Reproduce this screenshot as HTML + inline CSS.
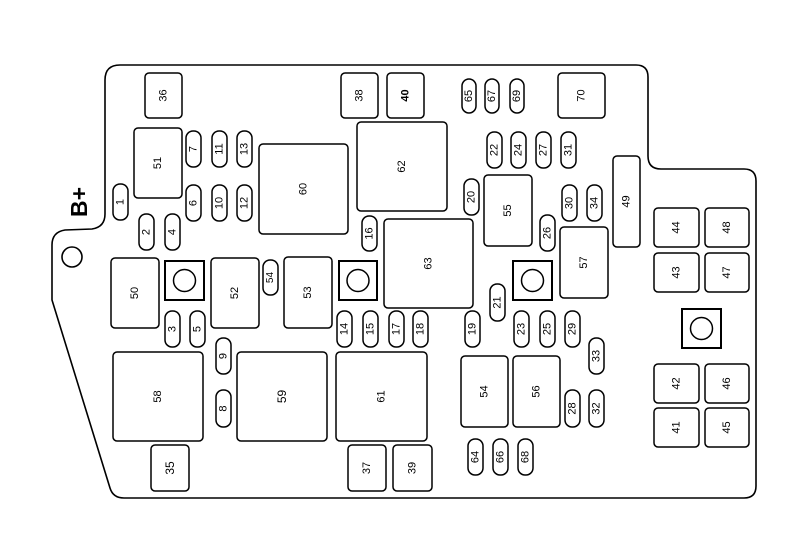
<!DOCTYPE html>
<html><head><meta charset="utf-8"><style>
html,body{margin:0;padding:0;background:#fff;}
svg{display:block;}
text{font-family:"Liberation Sans",sans-serif;font-size:11px;fill:#000;}
</style></head><body>
<svg width="797" height="548" viewBox="0 0 797 548" xmlns="http://www.w3.org/2000/svg">
<g fill="none" stroke="#000" stroke-width="1.6">
<path d="M120,65 L636,65 Q648,65 648,77 L648,156 Q648,169 661,169 L744,169 Q756,169 756,181 L756,486 Q756,498 744,498 L124,498 Q113,498 110,488 L52,300 L52,245 Q52,232 65,230 L92,229 Q105,227 105,214 L105,80 Q105,65 120,65 Z"/>
<circle cx="72" cy="257" r="10"/>
</g>
<text x="0" y="0" transform="translate(87,217) rotate(-90)" style="font-size:23px;font-weight:bold">B+</text>
<g id="boxes" fill="#fff" stroke="#000" stroke-width="1.5">
<rect x="145" y="73" width="37" height="45" rx="4"/>
<rect x="341" y="73" width="37" height="45" rx="4"/>
<rect x="387" y="73" width="37" height="45" rx="4"/>
<rect x="558" y="73" width="47" height="45" rx="4"/>
<rect x="134" y="128" width="48" height="70" rx="4"/>
<rect x="259" y="144" width="89" height="90" rx="4"/>
<rect x="357" y="122" width="90" height="89" rx="4"/>
<rect x="484" y="175" width="48" height="71" rx="4"/>
<rect x="613" y="156" width="27" height="91" rx="4"/>
<rect x="384" y="219" width="89" height="89" rx="4"/>
<rect x="560" y="227" width="48" height="71" rx="4"/>
<rect x="111" y="258" width="48" height="70" rx="4"/>
<rect x="211" y="258" width="48" height="70" rx="4"/>
<rect x="284" y="257" width="48" height="71" rx="4"/>
<rect x="113" y="352" width="90" height="89" rx="4"/>
<rect x="237" y="352" width="90" height="89" rx="4"/>
<rect x="336" y="352" width="91" height="89" rx="4"/>
<rect x="151" y="445" width="38" height="46" rx="4"/>
<rect x="348" y="445" width="38" height="46" rx="4"/>
<rect x="393" y="445" width="39" height="46" rx="4"/>
<rect x="461" y="356" width="47" height="71" rx="4"/>
<rect x="513" y="356" width="47" height="71" rx="4"/>
<rect x="654" y="208" width="45" height="39" rx="4"/>
<rect x="705" y="208" width="44" height="39" rx="4"/>
<rect x="654" y="253" width="45" height="39" rx="4"/>
<rect x="705" y="253" width="44" height="39" rx="4"/>
<rect x="654" y="364" width="45" height="39" rx="4"/>
<rect x="705" y="364" width="44" height="39" rx="4"/>
<rect x="654" y="408" width="45" height="39" rx="4"/>
<rect x="705" y="408" width="44" height="39" rx="4"/>
</g>
<g fill="#fff" stroke="#000" stroke-width="2">
<rect x="165" y="261" width="39" height="39"/><circle cx="184.5" cy="280.5" r="11" stroke-width="1.5"/>
<rect x="339" y="261" width="38" height="39"/><circle cx="358" cy="280.5" r="11" stroke-width="1.5"/>
<rect x="513" y="261" width="39" height="39"/><circle cx="532.5" cy="280.5" r="11" stroke-width="1.5"/>
<rect x="682" y="309" width="39" height="39"/><circle cx="701.5" cy="328.5" r="11" stroke-width="1.5"/>
</g>
<g fill="#fff" stroke="#000" stroke-width="1.5">
<!-- pills: x center, y top, height 36, width 15 -->
<rect x="462" y="79" width="14" height="34" rx="7"/>
<rect x="485" y="79" width="14" height="34" rx="7"/>
<rect x="510" y="79" width="14" height="34" rx="7"/>
<rect x="186" y="131" width="15" height="36" rx="7"/>
<rect x="212" y="131" width="15" height="36" rx="7"/>
<rect x="237" y="131" width="15" height="36" rx="7"/>
<rect x="186" y="185" width="15" height="36" rx="7"/>
<rect x="212" y="185" width="15" height="36" rx="7"/>
<rect x="237" y="185" width="15" height="36" rx="7"/>
<rect x="113" y="184" width="15" height="36" rx="7"/>
<rect x="139" y="214" width="15" height="36" rx="7"/>
<rect x="165" y="214" width="15" height="36" rx="7"/>
<rect x="487" y="132" width="15" height="36" rx="7"/>
<rect x="511" y="132" width="15" height="36" rx="7"/>
<rect x="536" y="132" width="15" height="36" rx="7"/>
<rect x="561" y="132" width="15" height="36" rx="7"/>
<rect x="464" y="179" width="15" height="36" rx="7"/>
<rect x="562" y="185" width="15" height="36" rx="7"/>
<rect x="587" y="185" width="15" height="36" rx="7"/>
<rect x="362" y="216" width="15" height="35" rx="7"/>
<rect x="540" y="215" width="15" height="36" rx="7"/>
<rect x="263" y="260" width="15" height="35" rx="7"/>
<rect x="165" y="311" width="15" height="36" rx="7"/>
<rect x="190" y="311" width="15" height="36" rx="7"/>
<rect x="216" y="338" width="15" height="36" rx="7"/>
<rect x="216" y="390" width="15" height="37" rx="7"/>
<rect x="337" y="311" width="15" height="36" rx="7"/>
<rect x="363" y="311" width="15" height="36" rx="7"/>
<rect x="389" y="311" width="15" height="36" rx="7"/>
<rect x="413" y="311" width="15" height="36" rx="7"/>
<rect x="490" y="284" width="15" height="37" rx="7"/>
<rect x="465" y="311" width="15" height="36" rx="7"/>
<rect x="514" y="311" width="15" height="36" rx="7"/>
<rect x="540" y="311" width="15" height="36" rx="7"/>
<rect x="565" y="311" width="15" height="36" rx="7"/>
<rect x="589" y="338" width="15" height="36" rx="7"/>
<rect x="565" y="390" width="15" height="37" rx="7"/>
<rect x="589" y="390" width="15" height="37" rx="7"/>
<rect x="468" y="439" width="15" height="36" rx="7"/>
<rect x="493" y="439" width="15" height="36" rx="7"/>
<rect x="518" y="439" width="15" height="36" rx="7"/>
</g>
<g text-anchor="middle" dominant-baseline="central">
<text transform="translate(163.5,95.5) rotate(-90)">36</text>
<text transform="translate(359.5,95.5) rotate(-90)">38</text>
<text transform="translate(405.5,95.5) rotate(-90)" style="font-weight:bold">40</text>
<text transform="translate(581.5,95.5) rotate(-90)">70</text>
<text transform="translate(158,163) rotate(-90)">51</text>
<text transform="translate(303.5,189) rotate(-90)">60</text>
<text transform="translate(402,166.5) rotate(-90)">62</text>
<text transform="translate(508,210.5) rotate(-90)">55</text>
<text transform="translate(626.5,201.5) rotate(-90)">49</text>
<text transform="translate(428.5,263.5) rotate(-90)">63</text>
<text transform="translate(584,262.5) rotate(-90)">57</text>
<text transform="translate(135,293) rotate(-90)">50</text>
<text transform="translate(235,293) rotate(-90)">52</text>
<text transform="translate(308,292.5) rotate(-90)">53</text>
<text transform="translate(158,396.5) rotate(-90)">58</text>
<text transform="translate(282,396.5) rotate(-90)" style="font-size:12px">59</text>
<text transform="translate(381.5,396.5) rotate(-90)">61</text>
<text transform="translate(170,468) rotate(-90)" style="font-size:12px">35</text>
<text transform="translate(367,468) rotate(-90)">37</text>
<text transform="translate(412.5,468) rotate(-90)">39</text>
<text transform="translate(484.5,391.5) rotate(-90)">54</text>
<text transform="translate(536.5,391.5) rotate(-90)">56</text>
<text transform="translate(676.5,227.5) rotate(-90)">44</text>
<text transform="translate(727,227.5) rotate(-90)">48</text>
<text transform="translate(676.5,272.5) rotate(-90)">43</text>
<text transform="translate(727,272.5) rotate(-90)">47</text>
<text transform="translate(676.5,383.5) rotate(-90)">42</text>
<text transform="translate(727,383.5) rotate(-90)">46</text>
<text transform="translate(676.5,427.5) rotate(-90)">41</text>
<text transform="translate(727,427.5) rotate(-90)">45</text>
</g>
<g text-anchor="middle" dominant-baseline="central" style="font-size:12px">
<text transform="translate(469,96) rotate(-90)">65</text>
<text transform="translate(492,96) rotate(-90)">67</text>
<text transform="translate(517,96) rotate(-90)">69</text>
<text transform="translate(193.5,149) rotate(-90)">7</text>
<text transform="translate(219.5,149) rotate(-90)">11</text>
<text transform="translate(244.5,149) rotate(-90)">13</text>
<text transform="translate(193.5,203) rotate(-90)">6</text>
<text transform="translate(219.5,203) rotate(-90)">10</text>
<text transform="translate(244.5,203) rotate(-90)">12</text>
<text transform="translate(120.5,202) rotate(-90)">1</text>
<text transform="translate(146.5,232) rotate(-90)">2</text>
<text transform="translate(172.5,232) rotate(-90)">4</text>
<text transform="translate(494.5,150) rotate(-90)">22</text>
<text transform="translate(518.5,150) rotate(-90)">24</text>
<text transform="translate(543.5,150) rotate(-90)">27</text>
<text transform="translate(568.5,150) rotate(-90)">31</text>
<text transform="translate(471.5,197) rotate(-90)">20</text>
<text transform="translate(569.5,203) rotate(-90)">30</text>
<text transform="translate(594.5,203) rotate(-90)">34</text>
<text transform="translate(369.5,233.5) rotate(-90)">16</text>
<text transform="translate(547.5,233) rotate(-90)">26</text>
<text transform="translate(270.5,277.5) rotate(-90)" style="font-size:10px">54</text>
<text transform="translate(172.5,329) rotate(-90)">3</text>
<text transform="translate(197.5,329) rotate(-90)">5</text>
<text transform="translate(223.5,356) rotate(-90)">9</text>
<text transform="translate(223.5,408.5) rotate(-90)">8</text>
<text transform="translate(344.5,329) rotate(-90)">14</text>
<text transform="translate(370.5,329) rotate(-90)">15</text>
<text transform="translate(396.5,329) rotate(-90)">17</text>
<text transform="translate(420.5,329) rotate(-90)">18</text>
<text transform="translate(497.5,302.5) rotate(-90)">21</text>
<text transform="translate(472.5,329) rotate(-90)">19</text>
<text transform="translate(521.5,329) rotate(-90)">23</text>
<text transform="translate(547.5,329) rotate(-90)">25</text>
<text transform="translate(572.5,329) rotate(-90)">29</text>
<text transform="translate(596.5,356) rotate(-90)">33</text>
<text transform="translate(572.5,408.5) rotate(-90)">28</text>
<text transform="translate(596.5,408.5) rotate(-90)">32</text>
<text transform="translate(475.5,457) rotate(-90)">64</text>
<text transform="translate(500.5,457) rotate(-90)">66</text>
<text transform="translate(525.5,457) rotate(-90)">68</text>
</g>
</svg>
</body></html>
